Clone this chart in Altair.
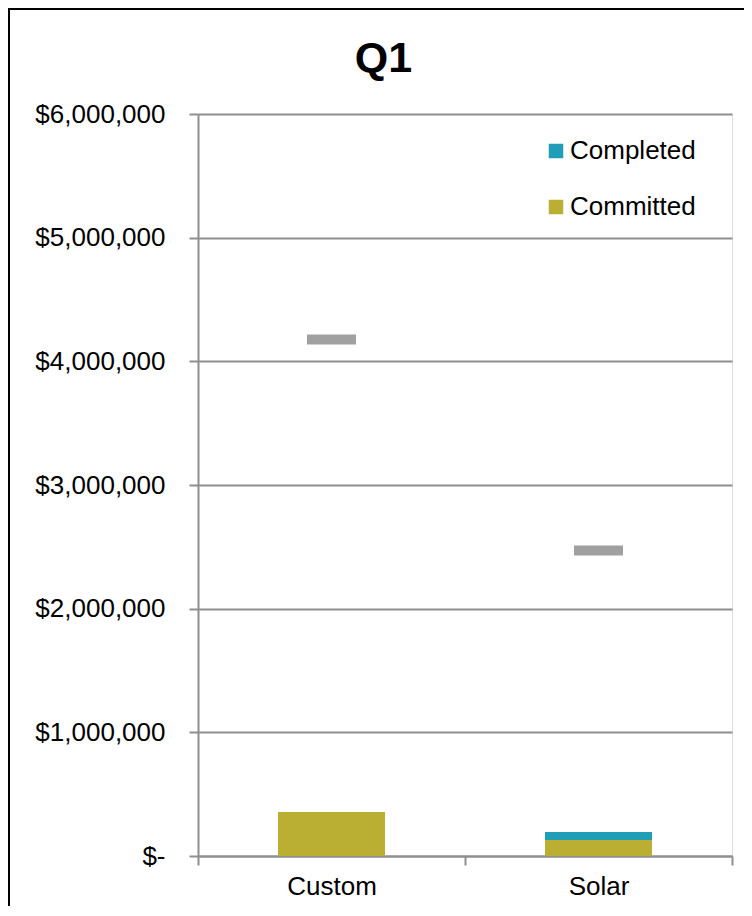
import altair as alt
import pandas as pd

# ---- data ----
categories = ["Custom", "Solar"]
committed = [356000, 129000]
completed = [0, 65000]
targets = [4176000, 2470000]
series_names = ["Completed", "Committed"]
series_colors = ["#209EB8", "#BAAF32"]
y_ticks = [0, 1000000, 2000000, 3000000, 4000000, 5000000, 6000000]
title_text = "Q1"

rows = []
for c, cm, cp in zip(categories, committed, completed):
    rows.append({"Category": c, "Series": "Committed", "Value": cm, "Order": 0})
    rows.append({"Category": c, "Series": "Completed", "Value": cp, "Order": 1})
bars_df = pd.DataFrame(rows)
target_df = pd.DataFrame({"Category": categories, "Target": targets})
title_df = pd.DataFrame({"Title": [title_text]})

FONT = "Liberation Sans"
W, H = 534, 742
GRAY = "#8E8E8E"

x_enc = alt.X(
    "Category:N",
    sort=categories,
    scale=alt.Scale(paddingInner=0, paddingOuter=0),
    axis=alt.Axis(
        title=None,
        labelAngle=0,
        tickBand="extent",
        tickSize=9,
        tickColor=GRAY,
        tickWidth=2,
        domainColor=GRAY,
        domainWidth=2,
        labelFont=FONT,
        labelFontSize=26,
        labelColor="black",
        labelPadding=8,
    ),
)

y_axis = alt.Axis(
    title=None,
    values=y_ticks,
    labelExpr="datum.value == 0 ? '$-\u00a0\u00a0' : '$' + format(datum.value, ',.0f')",
    tickSize=9,
    tickColor=GRAY,
    tickWidth=2,
    domainColor=GRAY,
    domainWidth=2,
    grid=True,
    gridColor=GRAY,
    gridWidth=2,
    labelFont=FONT,
    labelFontSize=26,
    labelColor="black",
    labelPadding=24,
)

bars = alt.Chart(bars_df).mark_bar(size=107).encode(
    x=x_enc,
    y=alt.Y("Value:Q", stack="zero",
            scale=alt.Scale(domain=[0, 6000000], nice=False), axis=y_axis),
    color=alt.Color(
        "Series:N",
        scale=alt.Scale(domain=series_names, range=series_colors),
        legend=alt.Legend(
            title=None,
            orient="none",
            legendX=345,
            legendY=24,
            symbolType="square",
            symbolSize=210,
            symbolStrokeWidth=0,
            symbolOpacity=1,
            labelFont=FONT,
            labelFontSize=26,
            labelColor="black",
            labelOffset=1,
            rowPadding=30,
            padding=0,
        ),
    ),
    order=alt.Order("Order:Q"),
)

ticks = alt.Chart(target_df).mark_tick(
    color="#A0A0A0", opacity=1, thickness=10, size=49, orient="horizontal"
).encode(
    x=alt.X("Category:N", sort=categories),
    y=alt.Y("Target:Q"),
)

frame = alt.Chart(pd.DataFrame({"f": [0]})).mark_rect(
    fill="transparent", stroke="black", strokeWidth=2
).encode(
    x=alt.value(-189), x2=alt.value(W + 60),
    y=alt.value(-105), y2=alt.value(H + 120),
)

title = alt.Chart(title_df).mark_text(
    font=FONT, fontSize=43, fontWeight="bold", color="black",
    align="center", baseline="alphabetic",
).encode(
    text="Title:N",
    x=alt.value(185.5),
    y=alt.value(-42),
)

chart = alt.layer(frame, bars, ticks, title).properties(
    width=W,
    height=H,
    autosize=alt.AutoSizeParams(type="none"),
    padding={"left": 190, "top": 106, "right": 12, "bottom": 50},
).configure_view(stroke=None).configure(background="white")

chart.save("out.html", embed_options={"renderer": "svg", "actions": False})
